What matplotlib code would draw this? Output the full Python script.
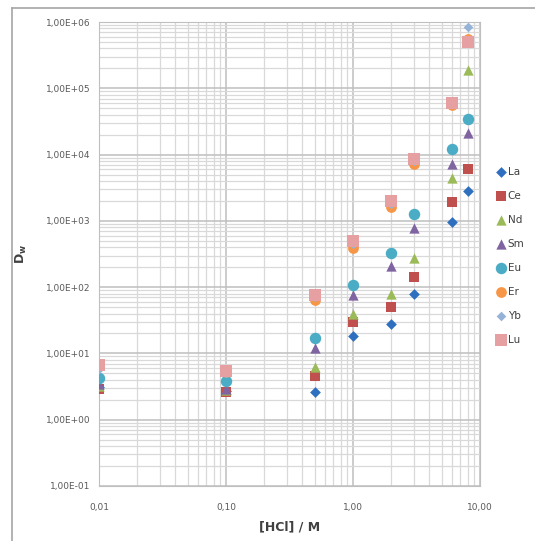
import numpy as np
import matplotlib.pyplot as plt
from matplotlib.ticker import FuncFormatter, LogLocator, NullFormatter
from matplotlib.lines import Line2D

hcl = [0.01, 0.1, 0.5, 1, 2, 3, 6, 8]
la = [3.1, 2.7, 2.6, 18.6, 28, 79, 960, 2850]
ce = [2.95, 2.6, 4.5, 30, 50, 142, 1950, 6100]
nd = [3.2, 2.8, 6.3, 40, 80, 275, 4500, 190000]
sm = [3.4, 2.95, 12, 76, 210, 790, 7300, 21000]
eu = [4.2, 3.8, 17, 107, 330, 1280, 12000, 35000]
er = [6.4, 5.3, 63, 390, 1600, 7200, 55000, 560000]
yb = [5.8, 5.0, 70, 450, 1800, 8000, 58000, 830000]
lu = [6.8, 5.5, 76, 500, 2000, 8700, 59000, 500000]

series = [
    ("La", la, "D", "#2E6FC0", 30),
    ("Ce", ce, "s", "#C0504D", 60),
    ("Nd", nd, "^", "#9BBB59", 55),
    ("Sm", sm, "^", "#8064A2", 55),
    ("Eu", eu, "o", "#4BACC6", 68),
    ("Er", er, "o", "#F79646", 60),
    ("Yb", yb, "D", "#95B3D7", 24),
    ("Lu", lu, "s", "#E6A0A2", 68),
]

fig = plt.figure(figsize=(5.35, 5.41), dpi=100)
# chart border (only top and left visible in the crop)
fig.add_artist(Line2D([12 / 535, 12 / 535], [0, 1 - 8 / 541],
                      transform=fig.transFigure, color="#A6A6A6", lw=1.2))
fig.add_artist(Line2D([12 / 535, 1], [1 - 8 / 541, 1 - 8 / 541],
                      transform=fig.transFigure, color="#A6A6A6", lw=1.2))
ax = fig.add_axes([99 / 535, 1 - 486 / 541, 381 / 535, 464 / 541])

for name, vals, mk, col, s in series:
    ax.scatter(hcl, vals, marker=mk, color=col, s=s, label=name,
               linewidths=0, zorder=3)

ax.set_xscale("log")
ax.set_yscale("log")
ax.set_xlim(0.01, 10)
ax.set_ylim(0.1, 1e6)

ax.xaxis.set_major_locator(LogLocator(base=10, numticks=10))
ax.yaxis.set_major_locator(LogLocator(base=10, numticks=10))
ax.xaxis.set_minor_locator(LogLocator(base=10, subs=np.arange(2, 10), numticks=20))
ax.yaxis.set_minor_locator(LogLocator(base=10, subs=np.arange(2, 10), numticks=20))
ax.xaxis.set_minor_formatter(NullFormatter())
ax.yaxis.set_minor_formatter(NullFormatter())
ax.xaxis.set_major_formatter(FuncFormatter(lambda v, p: f"{v:.2f}".replace(".", ",")))
ax.yaxis.set_major_formatter(FuncFormatter(
    lambda v, p: f"{v:.2E}".replace(".", ",")))

ax.grid(True, which="major", color="#BFBFBF", linewidth=1.1)
ax.grid(True, which="minor", color="#D9D9D9", linewidth=0.9)
ax.set_axisbelow(True)
for sp in ax.spines.values():
    sp.set_color("#BFBFBF")
ax.tick_params(which="both", length=0, labelsize=6.5, labelcolor="#595959")
ax.tick_params(axis="x", pad=12)
ax.tick_params(axis="y", pad=6)

ax.set_xlabel("[HCl] / M", fontsize=9, fontweight="bold", color="#404040", labelpad=6)
ax.set_ylabel("D$_\\mathregular{w}$", fontsize=9, fontweight="bold", color="#404040",
              labelpad=12)

ax.legend(loc="center left", bbox_to_anchor=(492 / 535, 1 - 256 / 541),
          bbox_transform=fig.transFigure, frameon=False, fontsize=7.5,
          labelspacing=1.35, handletextpad=0.1, borderaxespad=0,
          handlelength=1.0, labelcolor="#404040")

fig.savefig("out.png", dpi=100)
